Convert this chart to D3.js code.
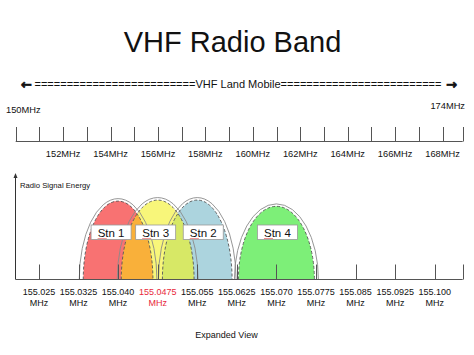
<!DOCTYPE html>
<html><head><meta charset="utf-8">
<script src="https://cdn.jsdelivr.net/npm/d3@7"></script>
<style>
body{margin:0;background:#fff}
svg{display:block}
text{font-family:"Liberation Sans",Arial,sans-serif;fill:#111}
</style>
</head><body>
<svg id="c" width="474" height="355"></svg>
<script>
// ---------- data ----------
const title = "VHF Radio Band";
const bandLabel = "VHF Land Mobile";
const bandStartLabel = "150MHz";
const bandEndLabel = "174MHz";
const mhzTicks = [150,151,152,153,154,155,156,157,158,159,160,161,162,163,164,165,166,167,168];
const mhzLabelled = [152,154,156,158,160,162,164,166,168];
const mhzAxisEnd = 168.85;

const khzTicks = [155.025,155.0325,155.040,155.0475,155.055,155.0625,155.070,155.0775,155.085,155.0925,155.100];
const khzTickLabels = ["155.025","155.0325","155.040","155.0475","155.055","155.0625","155.070","155.0775","155.085","155.0925","155.100"];
const khzAxisStart = 155.0206, khzAxisEnd = 155.1053;
const highlighted = "155.0475";

const stations = ["Stn 1","Stn 3","Stn 2","Stn 4"];
const stationFreq = [155.040,155.0475,155.055,155.070];
const stationHalfBW = [0.0066,0.0069,0.0066,0.0072];   // MHz
const stationEnergy = [75,76,76,70];                    // relative
const overlapPairs = [[0,1],[1,2]];
const yLabel = "Radio Signal Energy";
const footer = "Expanded View";

// ---------- layout / style ----------
const fills = ["#f87272","#f8f67a","#acd4de","#7def78"];
const overlapFills = ["#f9b03a","#d7e866"];
const labelNudge = [-7,-2,6,1];

const svg = d3.select("#c");

svg.append("text").attr("x",232.5).attr("y",52).attr("text-anchor","middle")
  .style("font-size","29px").text(title);

// band arrow line
const eq = "=".repeat(25);
svg.append("text").attr("x",21).attr("y",89.3)
  .style("font-family","'DejaVu Sans'").style("font-weight","bold").style("font-size","13px")
  .attr("stroke","#111").attr("stroke-width",0.7)
  .text("\u2190");
svg.append("text").attr("x",457).attr("y",89.3).attr("text-anchor","end")
  .style("font-family","'DejaVu Sans'").style("font-weight","bold").style("font-size","13px")
  .attr("stroke","#111").attr("stroke-width",0.7)
  .text("\u2192");
svg.append("text").attr("x",34.5).attr("y",88.3)
  .attr("textLength",407).attr("lengthAdjust","spacingAndGlyphs")
  .style("font-size","11px").text(eq + bandLabel + eq);

svg.append("text").attr("x",6).attr("y",113.4).style("font-size","9.3px").text(bandStartLabel);
svg.append("text").attr("x",465).attr("y",109.4).attr("text-anchor","end").style("font-size","9.3px").text(bandEndLabel);

// top axis
const xTop = d3.scaleLinear().domain([150, mhzAxisEnd]).range([15.7, 462.7]);
const topY = 141.5;
const gTop = svg.append("g");
gTop.append("line").attr("x1",xTop(150)).attr("x2",xTop(mhzAxisEnd)).attr("y1",topY).attr("y2",topY)
  .attr("stroke","#555").attr("stroke-width",1);
gTop.selectAll("line.t").data(mhzTicks.concat([mhzAxisEnd])).join("line").attr("class","t")
  .attr("x1",d=>Math.round(xTop(d))+0.5).attr("x2",d=>Math.round(xTop(d))+0.5)
  .attr("y1",topY-14.5).attr("y2",topY).attr("stroke","#555").attr("stroke-width",1);
gTop.selectAll("text").data(mhzLabelled).join("text")
  .attr("x",d=>xTop(d)).attr("y",156.8).attr("text-anchor","middle")
  .style("font-size","9.3px").text(d=>d+"MHz");

// lower chart
const x = d3.scaleLinear().domain([khzAxisStart, khzAxisEnd]).range([15.7, 462.7]);
const y = d3.scaleLinear().domain([0,100]).range([279.5, 175]);
const base = y(0);

function arch(i, padX, padY){
  const cx = x(stationFreq[i]);
  const rx = x(stationFreq[i] + stationHalfBW[i]) - cx + padX;
  const ry = base - y(stationEnergy[i]) + padY;
  return `M${cx-rx},${base} A${rx},${ry} 0 0 1 ${cx+rx},${base} Z`;
}

const defs = svg.append("defs");
stations.forEach((s,i)=>{
  defs.append("clipPath").attr("id","clip"+i).append("path").attr("d",arch(i,0,0));
});

const gShapes = svg.append("g");
gShapes.selectAll("path.f").data(stations).join("path").attr("class","f")
  .attr("d",(d,i)=>arch(i,0,0)).attr("fill",(d,i)=>fills[i]);
gShapes.selectAll("path.o").data(overlapPairs).join("path").attr("class","o")
  .attr("d",d=>arch(d[0],0,0)).attr("clip-path",d=>`url(#clip${d[1]})`)
  .attr("fill",(d,k)=>overlapFills[k]);

// lower ticks and axis
const gAx = svg.append("g");
gAx.selectAll("line.t").data(khzTicks.concat([khzAxisEnd])).join("line").attr("class","t")
  .attr("x1",d=>Math.round(x(d))+0.5).attr("x2",d=>Math.round(x(d))+0.5)
  .attr("y1",base-15).attr("y2",base).attr("stroke","#555").attr("stroke-width",1);

// outlines
gShapes.selectAll(null).data(stations).join("path")
  .attr("d",(d,i)=>arch(i,4,2.5)).attr("fill","none").attr("stroke","#8a8a8a").attr("stroke-width",0.9);
gShapes.selectAll(null).data(stations).join("path")
  .attr("d",(d,i)=>arch(i,0,0)).attr("fill","none").attr("stroke","#555")
  .attr("stroke-width",0.9).attr("stroke-dasharray","3,2");

gAx.append("line").attr("x1",15.7).attr("x2",x(khzAxisEnd)).attr("y1",base).attr("y2",base)
  .attr("stroke","#555").attr("stroke-width",1);
gAx.append("line").attr("x1",15.5).attr("x2",15.5).attr("y1",y(100)).attr("y2",base)
  .attr("stroke","#333").attr("stroke-width",1);
gAx.append("path").attr("d",`M15.5,${y(100)-2} l-2,5 l4,0 Z`).attr("fill","#333");
svg.append("text").attr("x",20).attr("y",187.7).style("font-size","7.7px").text(yLabel);

// tick labels
const gl = gAx.selectAll("text.kl").data(khzTickLabels).join("text").attr("class","kl")
  .attr("text-anchor","middle").style("font-size","9px")
  .style("fill",d=>d===highlighted?"#e8283a":"#111");
gl.append("tspan").attr("x",(d,i)=>x(khzTicks[i])).attr("y",295.2).text(d=>d);
gl.append("tspan").attr("x",(d,i)=>x(khzTicks[i])).attr("y",306.2).text("MHz");

// station labels
stations.forEach((s,i)=>{
  const cx = x(stationFreq[i]) + labelNudge[i];
  const g = svg.append("g");
  g.append("rect").attr("x",cx-20).attr("y",225).attr("width",40).attr("height",14.5)
    .attr("fill","#fff").attr("stroke","#999").attr("stroke-width",0.8);
  const t = g.append("text").attr("x",cx).attr("y",236.5).attr("text-anchor","middle")
    .style("font-size","11.5px").text(s);
  const w = t.node().getComputedTextLength();
  const sx = cx - w/2;
  let d = `M${sx},238`;
  for(let k=0;k<9;k++) d += ` l1,${k%2?-1:1}`;
  g.append("path").attr("d",d).attr("fill","none").attr("stroke","#e03c3c").attr("stroke-width",0.6);
});

svg.append("text").attr("x",226.5).attr("y",338).attr("text-anchor","middle")
  .style("font-size","9px").text(footer);
</script>
</body></html>
